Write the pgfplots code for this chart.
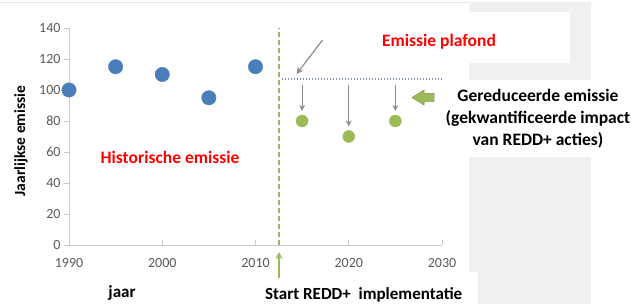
\documentclass[border=0pt]{standalone}
\usepackage{pgfplots}
\pgfplotsset{compat=1.18}
\usepackage{fontspec}
\setmainfont{Carlito}
\usetikzlibrary{arrows.meta}
\definecolor{exblue}{HTML}{4A7EBB}
\definecolor{exgreen}{HTML}{9BBB59}
\definecolor{dashgreen}{HTML}{9DB45C}
\definecolor{axgray}{HTML}{C8C8C8}
\definecolor{tickgray}{HTML}{595959}
\definecolor{bggray}{HTML}{F0F0F0}
\definecolor{arrgray}{HTML}{8C8C8C}
\definecolor{dotblue}{HTML}{7F8FA9}
\begin{document}
\begin{tikzpicture}
\begin{scope}[x=1pt,y=1pt]
\useasboundingbox (0,0) rectangle (636,304);
% background panels
\fill[bggray] (469,302) rectangle (591,0);
\fill[white] (325,292) rectangle (570,241);
\fill[white] (440,224) rectangle (636,147);
\fill[white] (262,32) rectangle (478,0);
\draw[gray!20, line width=0.8pt] (0,302) -- (469,302);
\end{scope}

\begin{axis}[
  at={(69pt,59pt)}, anchor=south west,
  scale only axis, width=373pt, height=217pt,
  xmin=1990, xmax=2030, ymin=0, ymax=140,
  axis x line*=bottom, axis y line*=left,
  xtick={1990,2000,...,2030}, ytick={0,20,...,140},
  /pgf/number format/1000 sep={},
  /pgf/number format/assume math mode=true,
  tick style={axgray, line width=0.8pt}, axis line style={axgray, line width=0.8pt},
  xtick align=inside, ytick align=outside, major tick length=5pt,
  ticklabel style={font=\fontsize{14}{16}\selectfont, text=tickgray},
  xticklabel style={anchor=center, yshift=-18pt},
  clip=false,
]
\addplot[only marks, mark=*, mark size=7.2pt, mark options={fill=exblue, draw=exblue}]
  coordinates {(1990,100) (1995,115) (2000,110) (2005,95) (2010,115)};
\addplot[only marks, mark=*, mark size=6pt, mark options={fill=exgreen, draw=exgreen}]
  coordinates {(2015,80) (2020,70) (2025,80)};
% start line
\draw[dashgreen, line width=1.5pt, dash pattern=on 5pt off 3pt] (axis cs:2012.5,0) -- (axis cs:2012.5,140);
% plafond
\draw[dotblue, line width=1.3pt, dash pattern=on 1.2pt off 1.8pt] (axis cs:2012.8,107) -- (axis cs:2030,107);
% arrows
\draw[arrgray, line width=1pt, -{Stealth[length=6pt,width=6pt]}] (axis cs:2015,103) -- (axis cs:2015,86.5);
\draw[arrgray, line width=1pt, -{Stealth[length=6pt,width=6pt]}] (axis cs:2020,103) -- (axis cs:2020,76.5);
\draw[arrgray, line width=1pt, -{Stealth[length=6pt,width=6pt]}] (axis cs:2025,103) -- (axis cs:2025,86.5);
\draw[arrgray, line width=1.2pt, -{Stealth[length=7pt,width=7pt]}] (axis cs:2017.2,132.3) -- (axis cs:2014.4,110.3);
\end{axis}

\begin{scope}[x=1pt,y=1pt]
% green block arrow
\filldraw[fill=exgreen, draw=exgreen!80!black, line width=0.5pt]
  (412,206.5) -- (424,214) -- (424,210.5) -- (434,210.5) -- (434,202.5) -- (424,202.5) -- (424,199) -- cycle;
% green up arrow
\draw[exgreen, line width=1.6pt, -{Stealth[length=7pt,width=7pt]}] (279,26) -- (279,52);
% texts
\node[rotate=90, font=\fontsize{15.5}{18}\bfseries\selectfont] at (21,163) {Jaarlijkse emissie};
\node[font=\fontsize{17}{19}\bfseries\selectfont] at (122,11) {jaar};
\node[anchor=west, font=\fontsize{17}{19}\bfseries\selectfont, inner sep=0pt] at (265,9) {Start REDD+\ \ implementatie};
\node[font=\fontsize{17.5}{19}\bfseries\selectfont, text=red] at (170,147) {Historische emissie};
\node[font=\fontsize{17.5}{19}\bfseries\selectfont, text=red] at (439,262) {Emissie plafond};
\node[align=center, font=\fontsize{17.5}{22}\bfseries\selectfont] at (538,185) {Gereduceerde emissie\\(gekwantificeerde impact\\van REDD+ acties)};
\end{scope}
\end{tikzpicture}
\end{document}
